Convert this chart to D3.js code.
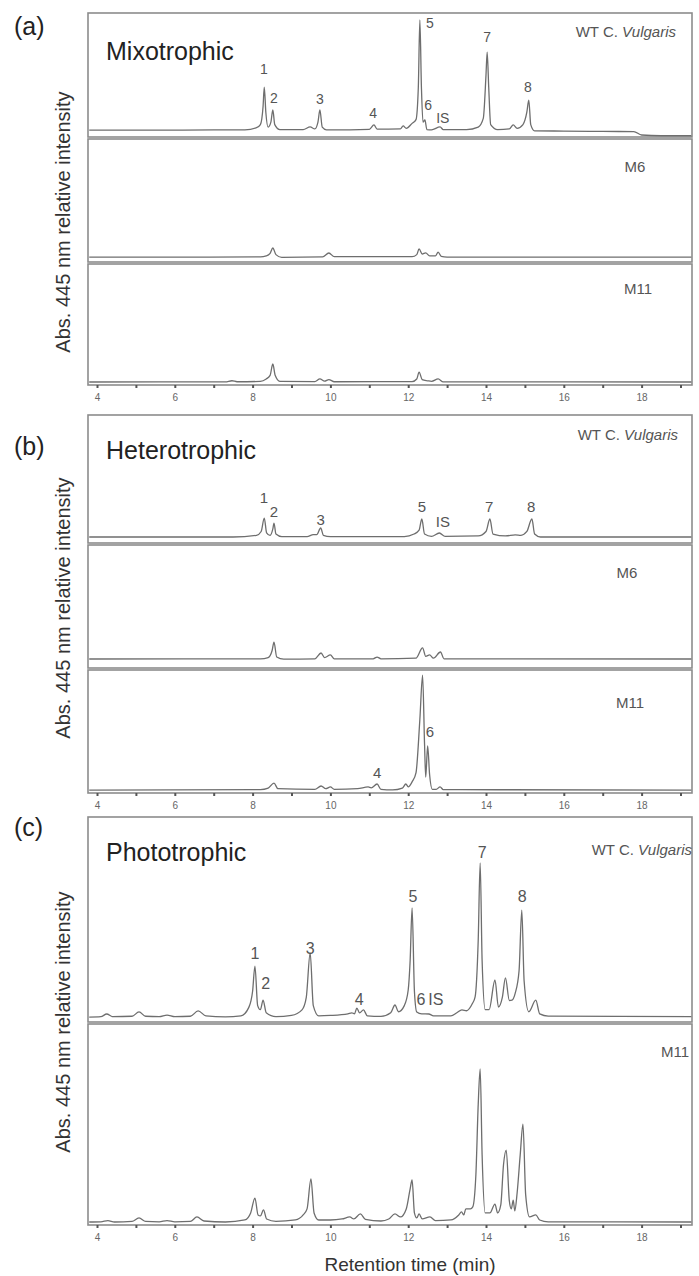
<!DOCTYPE html>
<html lang="en">
<head>
<meta charset="UTF-8">
<title>HPLC pigment profiles</title>
<script src="https://d3js.org/d3.v7.min.js"></script>
<style>
  body { margin: 0; background: #fff; }
  svg { display: block; font-family: Arial, "Liberation Sans", sans-serif; }
  .frame { fill: none; stroke: #8c8c8c; stroke-width: 1.6; }
  .trace { fill: none; stroke: #6e6e6e; stroke-width: 1.3; stroke-linejoin: round; }
  .peak { fill: #555; text-anchor: middle; }
  .name { fill: #555; }
  .tick line { stroke: #555; stroke-width: 2; }
  .tick text { fill: #666; font-size: 10px; }
</style>
</head>
<body>
<svg width="699" height="1276"></svg>

<script>
  // retention time (min), relative intensity (0-100 of each strip)
  const mixoWT = [[3.8,5.6],[5,5.6],[6,5.5],[7,5.7],[7.8,5.8],[8.1,7.5],[8.2,10],[8.27,25],[8.3,40.3],[8.34,20],[8.4,8],[8.47,12],[8.52,21.8],[8.57,10],[8.7,6],[9.3,6],[9.48,8.1],[9.6,6.5],[9.68,12],[9.73,21.8],[9.79,8],[9.9,5.8],[10.5,5.8],[11.0,6.2],[11.12,9.7],[11.2,6.3],[11.8,6.5],[11.87,8.9],[11.95,7],[12.1,11],[12.2,14],[12.26,40],[12.3,94.4],[12.34,40],[12.38,12],[12.43,13.7],[12.48,6],[12.6,5.8],[12.82,8.1],[12.9,6],[13.5,6],[13.8,8],[13.93,15],[14.0,50],[14.03,68.5],[14.07,40],[14.12,10],[14.3,6],[14.6,6.5],[14.7,9.7],[14.8,7],[14.95,10],[15.05,20],[15.1,29.8],[15.15,10],[15.25,5],[16,4.8],[17,4.5],[17.8,4.4],[18.0,1.6],[18.5,1],[19.28,1]];
  const mixoM6 = [[3.8,4],[6,4],[8.2,4.2],[8.35,5],[8.45,7],[8.52,11.4],[8.6,6],[8.75,3.8],[9.8,4.2],[9.96,7.3],[10.1,4.3],[12.1,4.3],[12.22,6],[12.28,10.6],[12.36,6.5],[12.45,7.5],[12.55,5],[12.7,5],[12.77,8.1],[12.85,4.5],[13.0,4],[16,4],[19.28,3.9]];
  const mixoM11 = [[3.8,2.5],[7.3,2.6],[7.47,3.5],[7.6,2.7],[8.2,3],[8.35,5],[8.45,8],[8.52,17.4],[8.58,8],[8.7,3],[9.6,2.8],[9.73,5],[9.85,3.2],[9.96,4.5],[10.1,2.7],[12.1,2.8],[12.22,5],[12.28,10.7],[12.36,4.5],[12.5,3.5],[12.6,3],[12.77,5],[12.9,2.6],[19.28,2.5]];

  const heteroWT = [[3.8,4.7],[7.5,4.7],[8.1,6],[8.22,9],[8.3,19.5],[8.36,8],[8.45,6],[8.52,11],[8.55,15.6],[8.6,7],[8.75,5],[9.4,5],[9.56,6.5],[9.65,6.5],[9.75,11.7],[9.82,6],[10,5],[11.9,5],[12.15,7],[12.28,10],[12.35,18.75],[12.42,7],[12.6,5.2],[12.8,7.8],[12.95,5.2],[13.8,5.5],[14.0,9],[14.1,18.75],[14.18,7],[14.5,5.5],[14.75,6.3],[14.9,6],[15.05,9],[15.18,18.75],[15.25,7],[15.4,4.7],[19.28,4.7]];
  const heteroM6 = [[3.8,7.3],[8.2,7.5],[8.4,8.5],[8.5,14],[8.55,21.1],[8.62,9],[8.8,7.2],[9.6,7.5],[9.76,12.2],[9.85,8.5],[10.0,10.6],[10.1,7.5],[11.1,7.5],[11.2,8.9],[11.3,7.5],[12.2,8],[12.37,16.3],[12.45,9.5],[12.55,10.6],[12.65,8],[12.83,13],[12.92,7.5],[19.28,7.3]];
  const heteroM11 = [[3.8,2.4],[8.2,2.8],[8.4,4],[8.55,8.1],[8.65,3.5],[9.6,3],[9.76,5.7],[9.88,3.5],[10.0,4.9],[10.1,3],[10.7,3.5],[10.97,4.9],[11.05,4.2],[11.2,7.3],[11.3,3],[11.6,2.5],[11.85,4],[11.94,7.3],[12.0,5],[12.1,9],[12.2,16.3],[12.3,60],[12.37,95.9],[12.42,40],[12.45,13],[12.5,38.2],[12.55,15],[12.62,3],[12.72,3],[12.82,4.9],[12.9,2.8],[19.28,2.4]];

  const photoWT = [[3.8,2.4],[4.1,2.6],[4.25,3.9],[4.4,2.6],[4.9,2.8],[5.08,4.9],[5.25,2.8],[5.6,2.6],[5.8,3.4],[6.0,2.6],[6.4,2.8],[6.6,5.4],[6.8,3],[7.3,2.5],[7.7,3],[7.9,7],[8.0,15],[8.06,27.3],[8.13,8],[8.2,6],[8.27,10.7],[8.35,4.5],[8.6,2.6],[9.0,3.2],[9.27,5.9],[9.38,12],[9.48,33.7],[9.56,8],[9.7,3],[10.0,3.2],[10.45,4],[10.55,4.5],[10.62,4],[10.68,6.8],[10.75,4.5],[10.85,5.9],[10.95,3],[11.3,2.7],[11.55,4.5],[11.66,8.3],[11.75,5],[11.9,8],[12.0,15.6],[12.05,30],[12.1,55.6],[12.16,15],[12.22,4.9],[12.35,4],[12.53,3.9],[12.65,3],[13.1,3],[13.25,4.5],[13.38,5.9],[13.5,5.5],[13.65,9],[13.72,12.2],[13.8,40],[13.85,77.6],[13.9,30],[13.98,6],[14.08,6],[14.23,20.5],[14.32,7.3],[14.42,12],[14.5,21.5],[14.6,10.5],[14.67,10.7],[14.75,14],[14.85,25],[14.92,54.6],[14.98,20],[15.1,5],[15.28,10.7],[15.38,4],[15.6,2.9],[19.28,2.6]];
  const photoM11 = [[3.8,1.5],[4.1,1.6],[4.28,2.2],[4.45,1.5],[4.9,1.8],[5.08,3.5],[5.25,1.8],[5.6,1.6],[5.8,2.2],[6.0,1.6],[6.4,1.8],[6.57,4],[6.75,2],[7.3,1.5],[7.8,2.5],[7.95,6],[8.06,13.4],[8.14,5],[8.2,4.5],[8.28,7.5],[8.36,3],[8.6,1.8],[9.1,2.5],[9.3,5],[9.4,8],[9.5,22.9],[9.58,6],[9.7,2.5],[10.0,2.5],[10.3,3],[10.5,4],[10.6,3],[10.77,5.5],[10.9,2.8],[11.3,2],[11.5,3],[11.66,5.5],[11.8,4],[11.95,8],[12.05,18],[12.1,22.4],[12.16,6],[12.22,3.5],[12.28,5.5],[12.36,3],[12.56,4],[12.7,2.2],[13.1,2.5],[13.3,5],[13.37,6.5],[13.43,5],[13.48,8],[13.6,8],[13.66,9],[13.74,25],[13.8,60],[13.85,77.6],[13.9,35],[13.98,6],[14.1,6],[14.23,10.4],[14.3,6],[14.38,10],[14.45,30],[14.52,37.3],[14.6,12],[14.65,8],[14.7,12.4],[14.74,7],[14.8,15.9],[14.88,35],[14.95,50.2],[15.02,15],[15.12,4],[15.28,5],[15.38,2.5],[15.6,1.6],[19.28,1.5]];

  // peak labels: [text, retention time, label baseline level]
  const mixoPeaks = [["1",8.29,50.8],["2",8.55,27.4],["3",9.73,26.6],["4",11.1,15.3],["5",12.56,87.9],["6",12.51,21.8],["IS",12.89,11.3],["7",14.03,76.6],["8",15.08,36.3]];
  const heteroPeaks = [["1",8.29,31.2],["2",8.55,20.3],["3",9.75,14.1],["5",12.35,24.2],["IS",12.89,12.5],["7",14.08,24.2],["8",15.16,24.2]];
  const heteroM11Peaks = [["4",11.2,12.2],["6",12.56,45.5]];
  const photoPeaks = [["1",8.06,30.7],["2",8.34,16.1],["3",9.48,33.2],["4",10.74,8.3],["5",12.12,58.5],["6",12.33,8.3],["IS",12.71,8.3],["7",13.9,80],["8",14.93,58.5]];

  const xTicks = [4,5,6,7,8,9,10,11,12,13,14,15,16,17,18,19];
  const yLabel = "Abs. 445 nm relative intensity";
  const xLabel = "Retention time (min)";

  // layout
  const left = 88, right = 692;
  const panels = [
    {letter: "(a)", letterY: 35, title: "Mixotrophic", titleY: 60, ylabY: 222, peakFs: 14,
     subs: [
       {top: 13, bottom: 137, trace: mixoWT, peaks: mixoPeaks, wt: true, nameX: 676, nameDY: 24},
       {top: 139, bottom: 262, trace: mixoM6, name: "M6", nameX: 635, nameDY: 33},
       {top: 264, bottom: 385, trace: mixoM11, name: "M11", nameX: 638, nameDY: 30}]},
    {letter: "(b)", letterY: 455, title: "Heterotrophic", titleY: 459, ylabY: 608, peakFs: 15,
     subs: [
       {top: 415, bottom: 543, trace: heteroWT, peaks: heteroPeaks, wt: true, nameX: 678, nameDY: 25},
       {top: 545, bottom: 668, trace: heteroM6, name: "M6", nameX: 627, nameDY: 33},
       {top: 670, bottom: 793, trace: heteroM11, peaks: heteroM11Peaks, name: "M11", nameX: 630, nameDY: 38}]},
    {letter: "(c)", letterY: 836, title: "Phototrophic", titleY: 861, ylabY: 1022, peakFs: 16,
     subs: [
       {top: 817, bottom: 1022, trace: photoWT, peaks: photoPeaks, wt: true, nameX: 692, nameDY: 38},
       {top: 1024, bottom: 1225, trace: photoM11, name: "M11", nameX: 675, nameDY: 33}]}
  ];

  const svg = d3.select("svg");

  const x = d3.scaleLinear().domain([4, 19]).range([97, 680.5]);

  panels.forEach(p => {
    const g = svg.append("g");

    p.subs.forEach(s => {
      const y = d3.scaleLinear().domain([0, 100]).range([s.bottom, s.top]);

      g.append("rect")
        .attr("class", "frame")
        .attr("x", left).attr("y", s.top)
        .attr("width", right - left).attr("height", s.bottom - s.top);

      g.append("path")
        .datum(s.trace)
        .attr("class", "trace")
        .attr("d", d3.line().x(d => x(d[0])).y(d => y(d[1])).curve(d3.curveMonotoneX));

      if (s.peaks) {
        g.selectAll(null)
          .data(s.peaks)
          .join("text")
          .attr("class", "peak")
          .attr("x", d => x(d[1]))
          .attr("y", d => y(d[2]))
          .style("font-size", p.peakFs + "px")
          .text(d => d[0]);
      }

      if (s.wt) {
        const t = g.append("text")
          .attr("class", "name")
          .attr("x", s.nameX).attr("y", s.top + s.nameDY)
          .attr("text-anchor", "end")
          .style("font-size", "15px");
        t.append("tspan").text("WT C. ");
        t.append("tspan").style("font-style", "italic").text("Vulgaris");
      } else {
        g.append("text")
          .attr("class", "name")
          .attr("x", s.nameX).attr("y", s.top + s.nameDY)
          .attr("text-anchor", "middle")
          .style("font-size", "15px")
          .text(s.name);
      }
    });

    const bottom = p.subs[p.subs.length - 1].bottom;
    const axis = g.append("g")
      .attr("transform", `translate(0,${bottom})`)
      .call(d3.axisBottom(x).tickValues(xTicks).tickSize(3).tickPadding(6)
        .tickFormat(d => d % 2 ? "" : d));
    axis.select(".domain").remove();

    // panel letter + title
    g.append("text")
      .attr("x", 14).attr("y", p.letterY)
      .style("font-size", "25px").attr("fill", "#222")
      .text(p.letter);
    g.append("text")
      .attr("x", 106).attr("y", p.titleY)
      .style("font-size", "25px").attr("fill", "#222")
      .text(p.title);

    g.append("text")
      .attr("transform", `translate(70,${p.ylabY}) rotate(-90)`)
      .attr("text-anchor", "middle")
      .style("font-size", "20px").attr("fill", "#333")
      .text(yLabel);
  });

  svg.append("text")
    .attr("x", 410).attr("y", 1271)
    .attr("text-anchor", "middle")
    .style("font-size", "19px").attr("fill", "#333")
    .text(xLabel);
</script>
</body>
</html>
